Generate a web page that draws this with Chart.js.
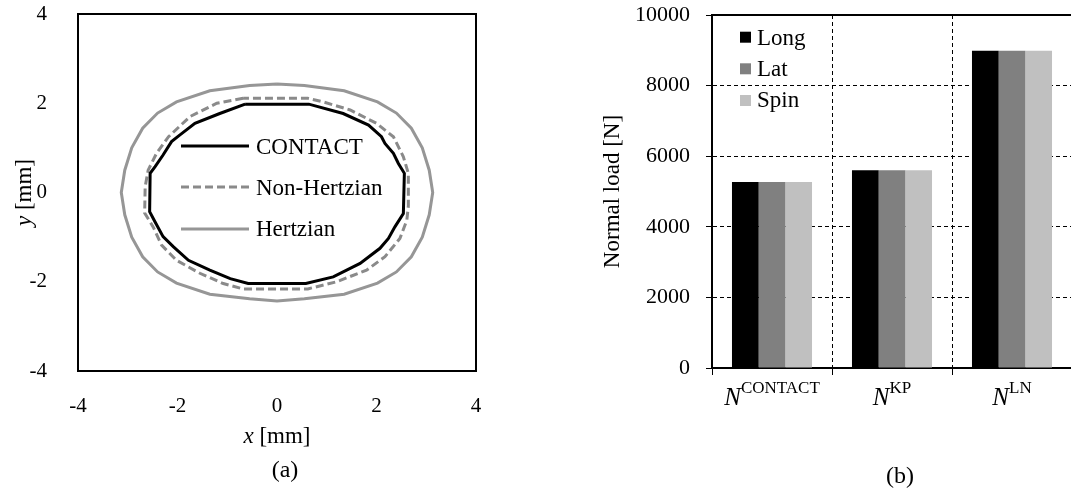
<!DOCTYPE html>
<html>
<head>
<meta charset="utf-8">
<script src="https://cdn.jsdelivr.net/npm/chart.js@4/dist/chart.umd.min.js"></script>
<style>
html, body { margin: 0; padding: 0; background: #fff; overflow: hidden; width: 1071px; height: 489px; }
canvas { position: absolute; top: 0; }
#contour { left: 0; }
#loads { left: 560px; }
</style>
</head>
<body>
<canvas id="contour" width="540" height="489"></canvas>
<canvas id="loads" width="520" height="489"></canvas>
<script>
// (a) contact patch contours [mm]
const contourTicks = [-4, -2, 0, 2, 4];
const contourNames = ['CONTACT', 'Non-Hertzian', 'Hertzian'];

const contactX = [-0.64, -1.15, -1.65, -1.95, -2.12, -2.29, -2.45, -2.55, -2.56, -2.45, -2.29, -2.08, -1.78, -1.35, -0.94, -0.58, 0.58, 1.13, 1.67, 2.07, 2.24, 2.37, 2.54, 2.56, 2.44, 2.34, 2.17, 2.10, 1.84, 1.33, 0.64, -0.64];
const contactY = [1.98, 1.77, 1.55, 1.29, 1.14, 0.84, 0.58, 0.43, -0.43, -0.66, -0.99, -1.22, -1.52, -1.74, -1.93, -2.04, -2.04, -1.89, -1.59, -1.25, -1.03, -0.77, -0.47, 0.43, 0.65, 0.88, 1.10, 1.25, 1.51, 1.77, 1.98, 1.98];

const nonHertzX = [-0.68, -1.21, -1.75, -2.18, -2.42, -2.59, -2.65, -2.66, -2.49, -2.32, -2.02, -1.55, -1.08, -0.68, 0.62, 1.20, 1.80, 2.17, 2.47, 2.61, 2.64, 2.64, 2.54, 2.34, 2.00, 1.47, 0.93, 0.62, -0.68];
const nonHertzY = [2.11, 2.00, 1.70, 1.25, 0.88, 0.50, 0.13, -0.46, -0.77, -1.18, -1.52, -1.81, -2.04, -2.16, -2.16, -2.00, -1.74, -1.44, -1.03, -0.62, -0.30, 0.43, 0.80, 1.25, 1.55, 1.85, 2.03, 2.11, 2.11];

const hertzX = [0, -0.55, -1.35, -2.02, -2.40, -2.70, -2.92, -3.06, -3.13, -3.06, -2.92, -2.70, -2.40, -2.02, -1.35, -0.55, 0, 0.55, 1.35, 2.02, 2.40, 2.70, 2.92, 3.06, 3.13, 3.06, 2.92, 2.70, 2.40, 2.02, 1.35, 0.55, 0];
const hertzY = [2.43, 2.40, 2.28, 2.03, 1.78, 1.44, 1.00, 0.50, 0, -0.50, -1.00, -1.44, -1.78, -2.03, -2.28, -2.38, -2.43, -2.38, -2.28, -2.03, -1.78, -1.44, -1.00, -0.50, 0, 0.50, 1.00, 1.44, 1.78, 2.03, 2.28, 2.40, 2.43];

// (b) normal load [N]
const loadCats = ['CONTACT', 'KP', 'LN'];   // superscripts on N
const seriesNames = ['Long', 'Lat', 'Spin'];
const loadLong = [5270, 5600, 8990];
const loadLat = [5270, 5600, 8990];
const loadSpin = [5270, 5600, 8990];
const loadTicks = ['0', '2000', '4000', '6000', '8000', '10000'];

const SERIF = '"Liberation Serif", "Times New Roman", serif';

function toPts(xs, ys) {
    return xs.map((x, i) => ({ x: x, y: ys[i] }));
}

// keep the plot box where it is: no extra room for the end labels
function fixAxis(s, size) {
    if (s.isHorizontal()) s.height = size; else s.width = size;
    s.paddingTop = 0;
    s.paddingBottom = 0;
    s.paddingLeft = 0;
    s.paddingRight = 0;
}

// text made of pieces with their own font, centred on cx, baseline at cy
function drawRich(ctx, parts, cx, cy, angle) {
    ctx.save();
    ctx.translate(cx, cy);
    if (angle) ctx.rotate(angle);
    ctx.fillStyle = '#000';
    ctx.textAlign = 'left';
    ctx.textBaseline = 'alphabetic';
    let total = 0;
    parts.forEach(p => {
        ctx.font = p.font;
        p.w = ctx.measureText(p.text).width;
        total += p.w;
    });
    let x = -total / 2;
    parts.forEach(p => {
        ctx.font = p.font;
        ctx.fillText(p.text, x, p.dy || 0);
        x += p.w;
    });
    ctx.restore();
}

const contourDecor = {
    id: 'contourDecor',
    afterDraw(chart) {
        const ctx = chart.ctx;
        const a = chart.chartArea;
        ctx.save();
        ctx.strokeStyle = '#000';
        ctx.lineWidth = 2;
        ctx.strokeRect(a.left, a.top, a.right - a.left, a.bottom - a.top);

        // legend inside the plot
        const rows = [146, 187, 229];
        const bases = [154, 195, 236];
        chart.data.datasets.forEach((ds, i) => {
            ctx.beginPath();
            ctx.strokeStyle = ds.borderColor;
            ctx.lineWidth = ds.borderWidth;
            ctx.setLineDash(ds.borderDash || []);
            ctx.moveTo(181, rows[i]);
            ctx.lineTo(249, rows[i]);
            ctx.stroke();
            ctx.setLineDash([]);
            ctx.fillStyle = '#000';
            ctx.font = '23px ' + SERIF;
            ctx.textAlign = 'left';
            ctx.textBaseline = 'alphabetic';
            ctx.fillText(contourNames[i], 256, bases[i]);
        });
        ctx.restore();

        const mid = (a.left + a.right) / 2;
        drawRich(ctx, [{ text: 'x', font: 'italic 23px ' + SERIF }, { text: ' [mm]', font: '23px ' + SERIF }], mid, 443);
        drawRich(ctx, [{ text: 'y', font: 'italic 23px ' + SERIF }, { text: ' [mm]', font: '23px ' + SERIF }], 31, (a.top + a.bottom) / 2, -Math.PI / 2);
        drawRich(ctx, [{ text: '(a)', font: '24px ' + SERIF }], 285, 477);
    }
};

const loadDecor = {
    id: 'loadDecor',
    afterDraw(chart) {
        const ctx = chart.ctx;
        const a = chart.chartArea;
        ctx.save();
        ctx.strokeStyle = '#000';
        ctx.lineWidth = 2;
        ctx.beginPath();
        ctx.moveTo(a.left, a.top);
        ctx.lineTo(a.right + 10, a.top);
        ctx.stroke();

        // legend
        const squares = [31.7, 63.3, 95];
        const bases = [45, 76, 107];
        chart.data.datasets.forEach((ds, i) => {
            ctx.fillStyle = ds.backgroundColor;
            ctx.fillRect(180, squares[i], 11, 11);
            ctx.fillStyle = '#000';
            ctx.font = '23px ' + SERIF;
            ctx.textAlign = 'left';
            ctx.textBaseline = 'alphabetic';
            ctx.fillText(seriesNames[i], 197, bases[i]);
        });
        ctx.restore();

        const xs = chart.scales.x;
        loadCats.forEach((c, i) => {
            drawRich(ctx, [
                { text: 'N', font: 'italic 25px ' + SERIF },
                { text: c, font: '17px ' + SERIF, dy: -12 }
            ], xs.getPixelForValue(i), 405);
        });
        drawRich(ctx, [{ text: 'Normal load [N]', font: '23px ' + SERIF }], 59, (a.top + a.bottom) / 2, -Math.PI / 2);
        drawRich(ctx, [{ text: '(b)', font: '24px ' + SERIF }], 340, 483);
    }
};

new Chart(document.getElementById('contour'), {
    type: 'scatter',
    data: {
        datasets: [
            { label: contourNames[0], data: toPts(contactX, contactY), borderColor: '#000000', borderWidth: 3, showLine: true, pointRadius: 0, tension: 0 },
            { label: contourNames[1], data: toPts(nonHertzX, nonHertzY), borderColor: '#8a8a8a', borderWidth: 3, borderDash: [8, 4], showLine: true, pointRadius: 0, tension: 0 },
            { label: contourNames[2], data: toPts(hertzX, hertzY), borderColor: '#969696', borderWidth: 3, showLine: true, pointRadius: 0, tension: 0 }
        ]
    },
    options: {
        responsive: false,
        animation: false,
        layout: { padding: { top: 14, right: 64, left: 0, bottom: 0 } },
        plugins: { legend: { display: false }, tooltip: { enabled: false } },
        scales: {
            x: {
                type: 'linear', min: -4, max: 4,
                afterFit: s => fixAxis(s, 118),
                grid: { display: false },
                border: { display: false },
                ticks: { stepSize: 2, padding: 15, color: '#000', font: { family: SERIF, size: 21 },
                    callback: v => contourTicks.includes(v) ? String(v) : '' }
            },
            y: {
                type: 'linear', min: -4, max: 4,
                afterFit: s => fixAxis(s, 78),
                grid: { display: false },
                border: { display: false },
                ticks: { stepSize: 2, padding: 23, color: '#000', font: { family: SERIF, size: 21 },
                    callback: v => contourTicks.includes(v) ? String(v) : '' }
            }
        }
    },
    plugins: [contourDecor]
});

new Chart(document.getElementById('loads'), {
    type: 'bar',
    data: {
        labels: loadCats,
        datasets: [
            { label: seriesNames[0], data: loadLong, backgroundColor: '#000000' },
            { label: seriesNames[1], data: loadLat, backgroundColor: '#808080' },
            { label: seriesNames[2], data: loadSpin, backgroundColor: '#c0c0c0' }
        ]
    },
    options: {
        responsive: false,
        animation: false,
        datasets: { bar: { categoryPercentage: 0.667, barPercentage: 1, borderWidth: 0 } },
        layout: { padding: { top: 15, right: 8, left: 0, bottom: 0 } },
        plugins: { legend: { display: false }, tooltip: { enabled: false } },
        scales: {
            x: {
                afterFit: s => fixAxis(s, 121),
                ticks: { display: false },
                grid: { color: '#000', lineWidth: 1, offset: true, tickLength: 7, tickColor: '#000', tickBorderDash: [] },
                border: { display: true, color: '#000', width: 2, dash: [4, 3] }
            },
            y: {
                min: 0, max: 10000,
                afterFit: s => fixAxis(s, 152),
                ticks: { stepSize: 2000, padding: 16, color: '#000', font: { family: SERIF, size: 22 },
                    callback: (v, i) => loadTicks[i] },
                grid: { color: '#000', lineWidth: 1, tickLength: 6, tickColor: '#000', tickBorderDash: [] },
                border: { display: true, color: '#000', width: 2, dash: [4, 3] }
            }
        }
    },
    plugins: [loadDecor]
});
</script>
</body>
</html>
